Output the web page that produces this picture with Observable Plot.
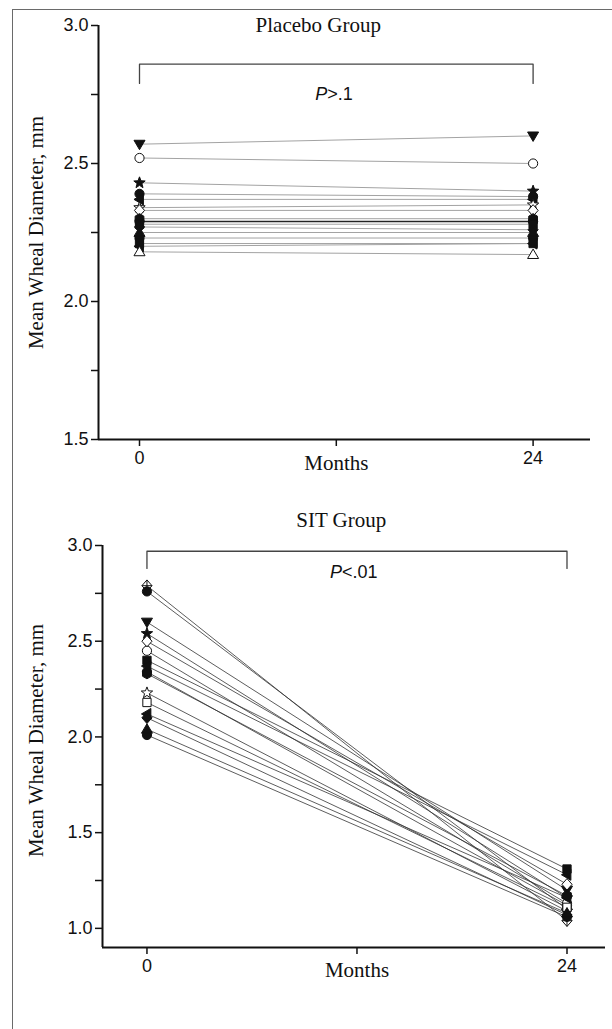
<!DOCTYPE html>
<html><head><meta charset="utf-8">
<script src="https://cdn.jsdelivr.net/npm/d3@7"></script>
<script src="https://cdn.jsdelivr.net/npm/@observablehq/plot@0.6"></script>
<style>
html,body{margin:0;padding:0;background:#fff;overflow:hidden;}
#wrap{position:relative;width:612px;height:1029px;overflow:hidden;background:#fff;}
#frame{position:absolute;left:12px;top:9px;width:700px;height:1100px;border-left:1.5px solid #6a6a6a;border-top:1.5px solid #6a6a6a;}
.panel{position:absolute;left:0;}
.panel svg g[aria-label="y-axis tick label"] text,
.panel svg g[aria-label="x-axis tick label"] text{font-size:18px;font-family:'Liberation Sans', Arial, sans-serif;}
</style></head>
<body>
<div id="wrap"><div id="frame"></div><div id="top" class="panel" style="top:0px"></div><div id="bot" class="panel" style="top:500px"></div></div>
<script>
// ---- data ----
const months = [0, 24];
const monthTicks = [0, 12, 24];
const monthTickLabels = ["0", "", "24"];

const placeboIds = ["P01","P02","P03","P04","P05","P06","P07","P08","P09","P10","P11","P12","P13","P14","P15","P16"];
const placeboMarkers = ["triDown-f","circle-o","star-f","circle-f","triLeft-f","star-o","diamond-o","hexagon-f","circle-f","square-f","diamond-f","triUp-f","circle-f","square-f","triLeft-f","triUp-o"];
const placeboMonth0  = [2.57,2.52,2.43,2.39,2.37,2.34,2.33,2.30,2.29,2.28,2.27,2.25,2.23,2.21,2.20,2.18];
const placeboMonth24 = [2.60,2.50,2.40,2.38,2.37,2.35,2.33,2.30,2.29,2.28,2.26,2.25,2.23,2.21,2.21,2.17];

const sitIds = ["S01","S02","S03","S04","S05","S06","S07","S08","S09","S10","S11","S12","S13","S14","S15","S16"];
const sitMarkers = ["diamondPlus-o","circle-f","triDown-f","star-f","diamond-o","circle-o","square-f","triLeft-f","hexagon-f","circle-f","star-o","square-o","triLeft-f","diamond-f","triUp-f","circle-f"];
const sitMonth0  = [2.79,2.76,2.60,2.54,2.50,2.45,2.40,2.37,2.33,2.34,2.23,2.18,2.12,2.10,2.04,2.01];
const sitMonth24 = [1.04,1.10,1.20,1.16,1.23,1.13,1.31,1.28,1.17,1.12,1.09,1.11,1.16,1.07,1.08,1.06];

const topYTicks = [1.5, 1.75, 2.0, 2.25, 2.5, 2.75, 3.0];
const topYLabels = ["1.5", "", "2.0", "", "2.5", "", "3.0"];
const botYTicks = [1.0, 1.25, 1.5, 1.75, 2.0, 2.25, 2.5, 2.75, 3.0];
const botYLabels = ["1.0", "", "1.5", "", "2.0", "", "2.5", "", "3.0"];

const placeboTitle = "Placebo Group";
const sitTitle = "SIT Group";
const placeboP = ["P", ">.1"];
const sitP = ["P", "<.01"];
const yTitle = "Mean Wheal Diameter, mm";
const xTitle = "Months";

// ---- symbols ----
const sym = (fn) => ({draw(ctx, size){ const r = Math.sqrt(size / Math.PI); fn(ctx, r); }});
function starPath(c, r){
  const R = 1.3 * r, ri = 0.55 * r;
  for (let k = 0; k < 10; k++) {
    const a = -Math.PI / 2 + k * Math.PI / 5;
    const rr = k % 2 ? ri : R;
    const px = rr * Math.cos(a), py = rr * Math.sin(a);
    k ? c.lineTo(px, py) : c.moveTo(px, py);
  }
  c.closePath();
}
const SYMBOLS = {
  triDown: sym((c,r)=>{c.moveTo(-1.2*r,-0.85*r);c.lineTo(1.2*r,-0.85*r);c.lineTo(0,1.2*r);c.closePath();}),
  triUp: sym((c,r)=>{c.moveTo(-1.2*r,0.85*r);c.lineTo(1.2*r,0.85*r);c.lineTo(0,-1.2*r);c.closePath();}),
  triLeft: sym((c,r)=>{c.moveTo(0.85*r,-1.2*r);c.lineTo(0.85*r,1.2*r);c.lineTo(-1.2*r,0);c.closePath();}),
  circle: sym((c,r)=>{c.moveTo(r,0);c.arc(0,0,r,0,2*Math.PI);c.closePath();}),
  square: sym((c,r)=>{c.moveTo(-0.9*r,-0.9*r);c.lineTo(0.9*r,-0.9*r);c.lineTo(0.9*r,0.9*r);c.lineTo(-0.9*r,0.9*r);c.closePath();}),
  diamond: sym((c,r)=>{c.moveTo(0,-1.25*r);c.lineTo(1.1*r,0);c.lineTo(0,1.25*r);c.lineTo(-1.1*r,0);c.closePath();}),
  diamondPlus: sym((c,r)=>{c.moveTo(0,-1.25*r);c.lineTo(1.1*r,0);c.lineTo(0,1.25*r);c.lineTo(-1.1*r,0);c.closePath();
    c.moveTo(-1.1*r,0);c.lineTo(1.1*r,0);c.moveTo(0,-1.25*r);c.lineTo(0,1.25*r);}),
  hexagon: sym((c,r)=>{for(let k=0;k<6;k++){const a=Math.PI/6+k*Math.PI/3;const px=1.1*r*Math.cos(a),py=1.1*r*Math.sin(a);k?c.lineTo(px,py):c.moveTo(px,py);}c.closePath();}),
  star: sym(starPath)
};

function rowsFor(ids, markers, m0, m24){
  const rows = [];
  ids.forEach((id, i) => {
    const [shape, f] = markers[i].split("-");
    rows.push({id, month: months[0], value: m0[i], shape, filled: f === "f"});
    rows.push({id, month: months[1], value: m24[i], shape, filled: f === "f"});
  });
  return rows;
}

function dotMarks(rows, r){
  const keys = Array.from(new Set(rows.map(d => d.shape + "|" + d.filled)));
  return keys.map(k => {
    const [shape, filled] = k.split("|");
    return Plot.dot(rows.filter(d => d.shape === shape && String(d.filled) === filled), {
      x: "month", y: "value", symbol: SYMBOLS[shape], r,
      fill: filled === "true" ? "#111" : "#fff", stroke: "#111", strokeWidth: 1
    });
  });
}

const serif = "'Liberation Serif', 'Times New Roman', serif";
const sans = "'Liberation Sans', Arial, sans-serif";

function panel(opts){
  const {rows, xDomain, yDomain, yTicks, yLabels, width, height, mt, mb, ml, mr,
         lineStroke, lineWidth, darkIds, title, titleX, titleDy, pText, pX, pY, pDx,
         bracketY, bracketFoot, ytDx, ytDy, monthsDy} = opts;
  const yLab = new Map(yTicks.map((t, i) => [t, yLabels[i]]));
  const xLab = new Map(monthTicks.map((t, i) => [t, monthTickLabels[i]]));
  return Plot.plot({
    width, height, marginTop: mt, marginBottom: mb, marginLeft: ml, marginRight: mr,
    x: {domain: xDomain}, y: {domain: yDomain},
    style: {fontFamily: sans, fontSize: "18px", color: "#111", background: "transparent", overflow: "visible"},
    marks: [
      Plot.axisY({ticks: yTicks, tickSize: 7, tickPadding: 3, tickFormat: d => yLab.get(d) ?? "", label: null, strokeWidth: 1.5}),
      Plot.axisX({ticks: monthTicks, tickSize: 7, tickPadding: 5, tickFormat: d => xLab.get(d) ?? "", label: null, strokeWidth: 1.5}),
      Plot.ruleX([xDomain[0]], {y1: yDomain[0], y2: yDomain[1], stroke: "#111", strokeWidth: 2}),
      Plot.ruleY([yDomain[0]], {stroke: "#111", strokeWidth: 2}),
      // bracket
      Plot.line([[months[0], bracketFoot], [months[0], bracketY], [months[1], bracketY], [months[1], bracketFoot]],
        {x: d => d[0], y: d => d[1], stroke: "#444", strokeWidth: 1.3}),
      Plot.text([pText[0]], {x: pX, y: pY, textAnchor: "end", dx: pDx, fontStyle: "italic", fontSize: 18, fontFamily: sans}),
      Plot.text([pText[1]], {x: pX, y: pY, textAnchor: "start", dx: pDx, fontSize: 18, fontFamily: sans}),
      // titles
      Plot.text([title], {x: titleX, frameAnchor: "top", dy: titleDy, lineAnchor: "middle", fontFamily: serif, fontSize: 21}),
      Plot.text([xTitle], {x: monthTicks[1], frameAnchor: "bottom", dy: monthsDy, lineAnchor: "middle", fontFamily: serif, fontSize: 21}),
      Plot.text([yTitle], {frameAnchor: "left", dx: ytDx, dy: ytDy, rotate: -90, textAnchor: "middle", lineAnchor: "middle", fontFamily: serif, fontSize: 21}),
      // data
      Plot.line(rows.filter(d => !darkIds.has(d.id)), {x: "month", y: "value", z: "id", stroke: lineStroke, strokeWidth: lineWidth}),
      Plot.line(rows.filter(d => darkIds.has(d.id)), {x: "month", y: "value", z: "id", stroke: "#222", strokeWidth: 1.4}),
      ...dotMarks(rows, 4.6)
    ]
  });
}

const topChart = panel({
  rows: rowsFor(placeboIds, placeboMarkers, placeboMonth0, placeboMonth24),
  xDomain: [-2.5, 27.5], yDomain: [1.5, 3.0], yTicks: topYTicks, yLabels: topYLabels,
  width: 612, height: 490, mt: 25, mb: 51, ml: 98, mr: 22,
  lineStroke: "#a3a3a3", lineWidth: 1, darkIds: new Set(["P09"]),
  title: placeboTitle, titleX: 10.9, titleDy: 0,
  pText: placeboP, pX: 12, pY: 2.75, pDx: -9,
  bracketY: 2.86, bracketFoot: 2.79, ytDx: -62, ytDy: 0, monthsDy: 24
});
document.getElementById("top").appendChild(topChart);

const botChart = panel({
  rows: rowsFor(sitIds, sitMarkers, sitMonth0, sitMonth24),
  xDomain: [-2.54, 26.2], yDomain: [0.9, 3.0], yTicks: botYTicks, yLabels: botYLabels,
  width: 612, height: 500, mt: 45, mb: 53, ml: 102, mr: 7,
  lineStroke: "#333", lineWidth: 0.8, darkIds: new Set(),
  title: sitTitle, titleX: 11.1, titleDy: -25,
  pText: sitP, pX: 12, pY: 2.86, pDx: -15,
  bracketY: 2.97, bracketFoot: 2.88, ytDx: -66, ytDy: -6, monthsDy: 23
});
document.getElementById("bot").appendChild(botChart);
</script>
</body></html>
